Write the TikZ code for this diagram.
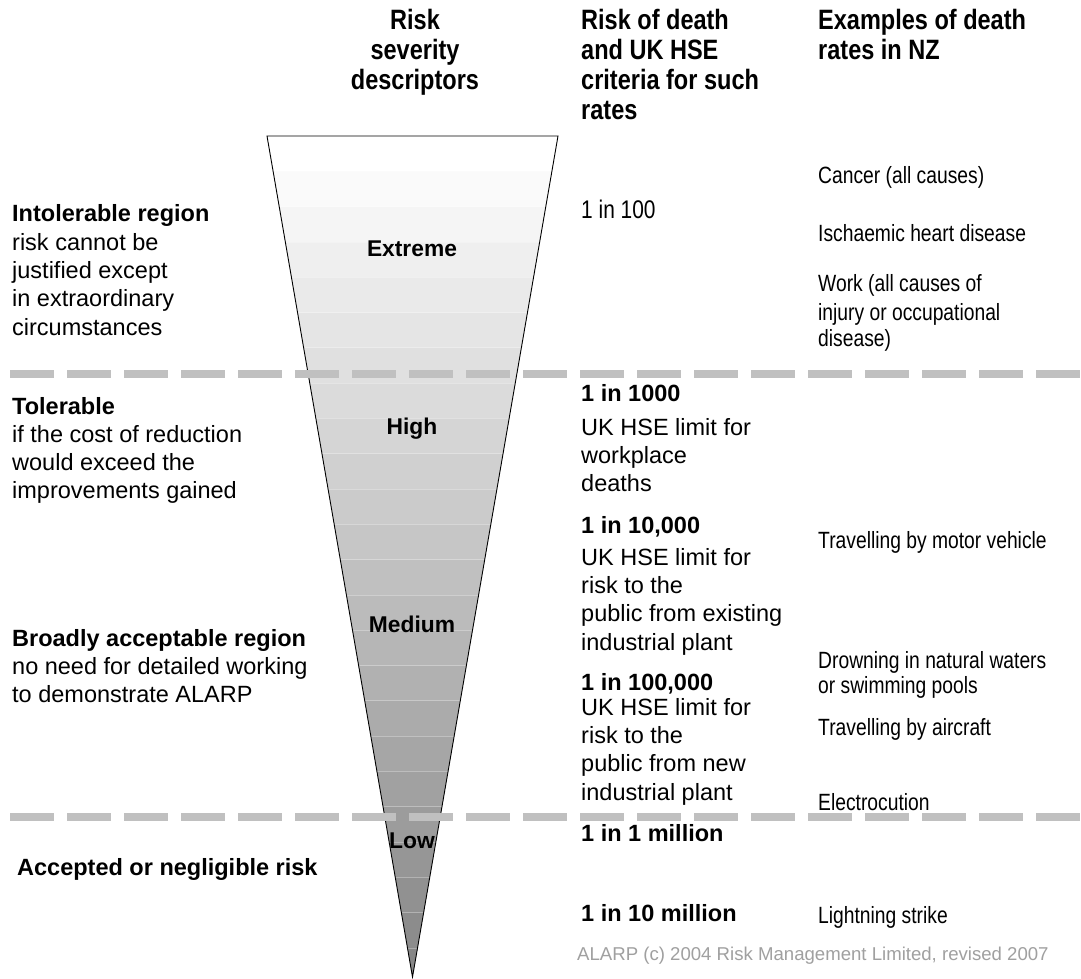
\documentclass[tikz,border=0pt]{standalone}
\usepackage{fontspec}
\setmainfont{Liberation Sans}
\newfontfamily\narrowfont[FakeStretch=0.82]{Liberation Sans}
\newfontfamily\hdrfont[FakeStretch=0.84]{Liberation Sans}
\begin{document}
\begin{tikzpicture}[x=1pt,y=-1pt,
  reg/.style={inner sep=0pt, font=\fontsize{23.5}{28}\selectfont},
  bld/.style={inner sep=0pt, font=\fontsize{23.5}{28}\selectfont\bfseries},
  nar/.style={inner sep=0pt, font=\narrowfont\fontsize{23.5}{28}\selectfont},
  hdr/.style={inner sep=0pt, font=\hdrfont\fontsize{28}{30}\selectfont\bfseries},
  lvl/.style={inner sep=0pt, font=\fontsize{22.8}{27}\selectfont\bfseries},
  divider/.style={line width=7.5pt, color=dashgray, dash pattern=on 43.5pt off 13.5pt}]
\definecolor{dashgray}{RGB}{192,192,192}
\definecolor{footgray}{RGB}{160,160,160}
\fill[white] (0,0) rectangle (1081,978);
\useasboundingbox (0,0) rectangle (1081,978);
% funnel bands
\begin{scope}
\clip (267,136) -- (558,136) -- (412.5,977) -- cycle;
\foreach \k in {0,...,23}{
  \pgfmathsetmacro\p{2.05*\k}
  \fill[black!\p] (250,{136+35.3*\k}) rectangle (575,{136+35.3*\k+35.5});
}
\foreach \k in {1,...,23}{
  \draw[white, opacity=0.3, line width=0.8pt] (250,{136+35.3*\k}) -- (575,{136+35.3*\k});
}
\end{scope}
\draw[line width=0.9pt, line join=miter] (267,136) -- (558,136) -- (412.5,977) -- cycle;
% level labels
\node[lvl, anchor=base] (ext) at (412,256) {Extreme};
\node[lvl, anchor=base] (hig) at (412,434) {High};
\node[lvl, anchor=base] (med) at (412,632) {Medium};
% dividers
\coordinate (d1a) at (10,374); \coordinate (d1b) at (1081,374);
\coordinate (d2a) at (10,817); \coordinate (d2b) at (1081,817);
\draw[divider] (d1a) -- (d1b);
\draw[divider] (d2a) -- (d2b);
\node[lvl, anchor=base] (low) at (412,848) {Low};
% headers
\foreach \yy/\tx [count=\i] in {29/Risk, 59/severity, 89/descriptors}
  \node[hdr, anchor=base] (h1\i) at (415,\yy) {\tx};
\foreach \yy/\tx [count=\i] in {29/Risk of death, 59/and UK HSE, 89/criteria for such, 119/rates}
  \node[hdr, anchor=base west] (h2\i) at (581,\yy) {\tx};
\foreach \yy/\tx [count=\i] in {29/Examples of death, 59/rates in NZ}
  \node[hdr, anchor=base west] (h3\i) at (818,\yy) {\tx};
% left column
\foreach \yy/\tx [count=\i] in {221/Intolerable region, 414/Tolerable, 646/Broadly acceptable region}
  \node[bld, anchor=base west] (lb\i) at (12,\yy) {\tx};
\node[bld, anchor=base west] (lb4) at (17,875) {Accepted or negligible risk};
\foreach \yy/\tx [count=\i] in {250/risk cannot be, 278/justified except, 306/in extraordinary, 335/circumstances,
   442/if the cost of reduction, 470/would exceed the, 498/improvements gained,
   674/no need for detailed working, 702/to demonstrate ALARP}
  \node[reg, anchor=base west] (lr\i) at (12,\yy) {\tx};
% middle column
\node[inner sep=0pt, anchor=base west, font=\narrowfont\fontsize{25.5}{28}\selectfont] (m0) at (581,218) {1 in 100};
\foreach \yy/\tx [count=\i] in {401/1 in 1000, 533/{1 in 10,000}, 690/{1 in 100,000}, 841/1 in 1 million, 921/1 in 10 million}
  \node[bld, anchor=base west] (mb\i) at (581,\yy) {\tx};
\foreach \yy/\tx [count=\i] in {435/UK HSE limit for, 463/workplace, 491/deaths,
   565/UK HSE limit for, 593/risk to the, 621/public from existing, 650/industrial plant,
   715/UK HSE limit for, 743/risk to the, 771/public from new, 800/industrial plant}
  \node[reg, anchor=base west] (mr\i) at (581,\yy) {\tx};
% right column
\foreach \yy/\tx [count=\i] in {183/Cancer (all causes), 241/Ischaemic heart disease, 291/Work (all causes of,
   320/injury or occupational, 346/disease), 548/Travelling by motor vehicle,
   668/Drowning in natural waters, 693/or swimming pools, 735/Travelling by aircraft,
   810/Electrocution, 923/Lightning strike}
  \node[nar, anchor=base west] (r\i) at (818,\yy) {\tx};
% footer
\node[inner sep=0pt, anchor=base west, text=footgray, font=\fontsize{18.6}{22}\selectfont] (foot) at (577,960) {ALARP (c) 2004 Risk Management Limited, revised 2007};
\end{tikzpicture}
\end{document}
